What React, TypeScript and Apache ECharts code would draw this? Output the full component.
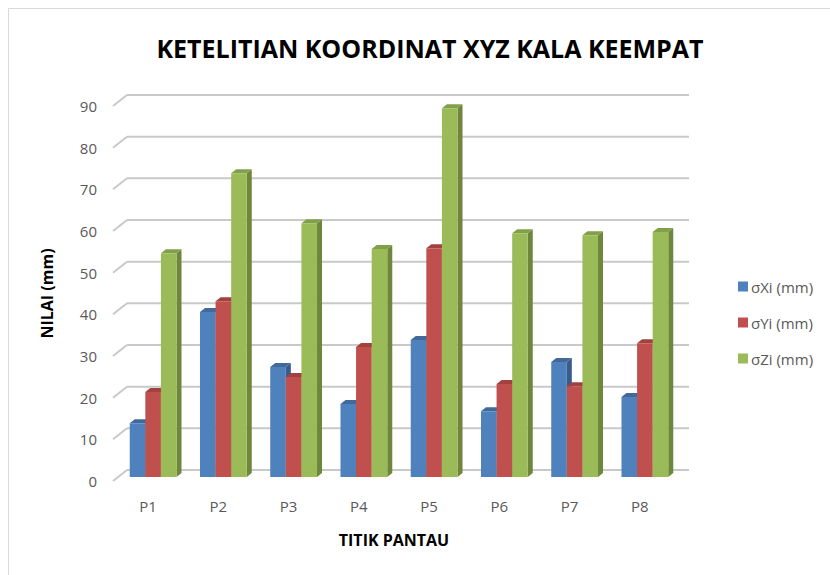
import React, { useEffect, useRef } from "react";
import * as echarts from "echarts";

const categories = ["P1", "P2", "P3", "P4", "P5", "P6", "P7", "P8"];
const sigmaX = [12.9, 39.6, 26.4, 17.5, 32.9, 15.8, 27.6, 19.2];
const sigmaY = [20.4, 42.2, 24.0, 31.2, 54.9, 22.3, 21.8, 32.1];
const sigmaZ = [53.7, 72.9, 60.9, 54.7, 88.5, 58.5, 58.0, 58.8];
const seriesNames = ["σXi (mm)", "σYi (mm)", "σZi (mm)"];
const yTicks = [0, 10, 20, 30, 40, 50, 60, 70, 80, 90];

const FRONT = ["#4F81BD", "#C0504D", "#9BBB59"];
const SIDE = ["#385D8A", "#8C3A38", "#6E873D"];
const TOP = ["#41699A", "#A2423F", "#82A049"];

const FONT = "'Open Sans', 'Noto Sans', sans-serif";

// depth offsets
const BACK_DX = 14;
const BACK_DY = -11;
const BAR_DX = 5;
const BAR_DY = -4;
const SIDE_DX = 5;
const SIDE_DY = -4;

export default function App() {
  const ref = useRef<HTMLDivElement>(null);
  useEffect(() => {
    if (!ref.current) return;
    const chart = echarts.init(ref.current, null, { renderer: "svg" });

    const gridRender = (params: any, api: any) => {
      const cs = params.coordSys;
      const y = api.coord([0, api.value(1)])[1];
      const x0 = cs.x;
      const x1 = cs.x + cs.width;
      const style = { stroke: "#C9C9C9", lineWidth: 2 };
      return {
        type: "group",
        children: [
          {
            type: "line",
            shape: { x1: x0, y1: y, x2: x0 + BACK_DX, y2: y + BACK_DY },
            style,
          },
          {
            type: "line",
            shape: { x1: x0 + BACK_DX, y1: y + BACK_DY, x2: x1 + BACK_DX, y2: y + BACK_DY },
            style,
          },
        ],
      };
    };

    const makeBarRender = (si: number) => (params: any, api: any) => {
      const idx = api.value(0);
      const val = api.value(1);
      const cx = api.coord([idx, 0])[0];
      const band = api.size([1, 0])[0];
      const bw = band * 0.222;
      const groupLeft = cx - (bw * 3) / 2 + BAR_DX;
      const xl = groupLeft + si * bw;
      const xr = xl + bw;
      const yb = api.coord([idx, 0])[1] + BAR_DY;
      const yt = api.coord([idx, val])[1] + BAR_DY;
      return {
        type: "group",
        children: [
          {
            type: "polygon",
            shape: {
              points: [
                [xr, yt],
                [xr + SIDE_DX, yt + SIDE_DY],
                [xr + SIDE_DX, yb + SIDE_DY],
                [xr, yb],
              ],
            },
            style: { fill: SIDE[si] },
          },
          {
            type: "polygon",
            shape: {
              points: [
                [xl, yt],
                [xl + SIDE_DX, yt + SIDE_DY],
                [xr + SIDE_DX, yt + SIDE_DY],
                [xr, yt],
              ],
            },
            style: { fill: TOP[si] },
          },
          {
            type: "rect",
            shape: { x: xl, y: yt, width: bw, height: yb - yt },
            style: { fill: FRONT[si] },
          },
        ],
      };
    };

    const allSeries = [sigmaX, sigmaY, sigmaZ];

    chart.setOption({
      animation: false,
      backgroundColor: "#FFFFFF",
      textStyle: { fontFamily: FONT },
      title: {
        text: "KETELITIAN KOORDINAT XYZ KALA KEEMPAT",
        left: 425,
        textAlign: "center",
        top: 30,
        textStyle: { fontFamily: FONT, fontWeight: "bold", fontSize: 25, color: "#000000" },
      },
      graphic: [
        {
          type: "rect",
          z: -10,
          shape: { x: 8.5, y: 8.5, width: 900, height: 700 },
          style: { fill: "none", stroke: "#D9D9D9", lineWidth: 1 },
        },
      ],
      legend: {
        orient: "vertical",
        left: 733,
        top: 274,
        itemWidth: 10,
        itemHeight: 10,
        itemGap: 21,
        icon: "rect",
        textStyle: { fontFamily: FONT, fontSize: 15, color: "#595959", padding: [0, 0, 0, -2] },
        data: seriesNames,
      },
      grid: { left: 113, right: 155, top: 106, bottom: 94 },
      xAxis: {
        type: "category",
        data: categories,
        axisLine: { show: false },
        axisTick: { show: false },
        axisLabel: { margin: 17, fontSize: 15, color: "#595959", fontFamily: FONT },
        name: "TITIK PANTAU",
        nameLocation: "middle",
        nameGap: 51,
        nameTextStyle: { fontFamily: FONT, fontWeight: "bold", fontSize: 16, color: "#000000" },
      },
      yAxis: {
        type: "value",
        min: 0,
        max: 90,
        interval: 10,
        splitLine: { show: false },
        axisLine: { show: false },
        axisTick: { show: false },
        axisLabel: { margin: 16, fontSize: 15, color: "#595959", fontFamily: FONT },
        name: "NILAI (mm)",
        nameLocation: "middle",
        nameGap: 58,
        nameTextStyle: { fontFamily: FONT, fontWeight: "bold", fontSize: 16, color: "#000000" },
      },
      series: [
        {
          type: "custom",
          name: "grid",
          z: 1,
          silent: true,
          renderItem: gridRender,
          data: yTicks.map((v) => [0, v]),
          encode: { x: 0, y: 1 },
        },
        ...allSeries.map((arr, si) => ({
          type: "custom",
          name: seriesNames[si],
          z: 2,
          itemStyle: { color: FRONT[si] },
          renderItem: makeBarRender(si),
          data: arr.map((v, i) => [i, v]),
          encode: { x: 0, y: 1 },
        })),
      ],
    });
    return () => chart.dispose();
  }, []);
  return (
    <div
      ref={ref}
      style={{ position: "fixed", left: 0, top: 0, width: 830, height: 575 }}
    />
  );
}
